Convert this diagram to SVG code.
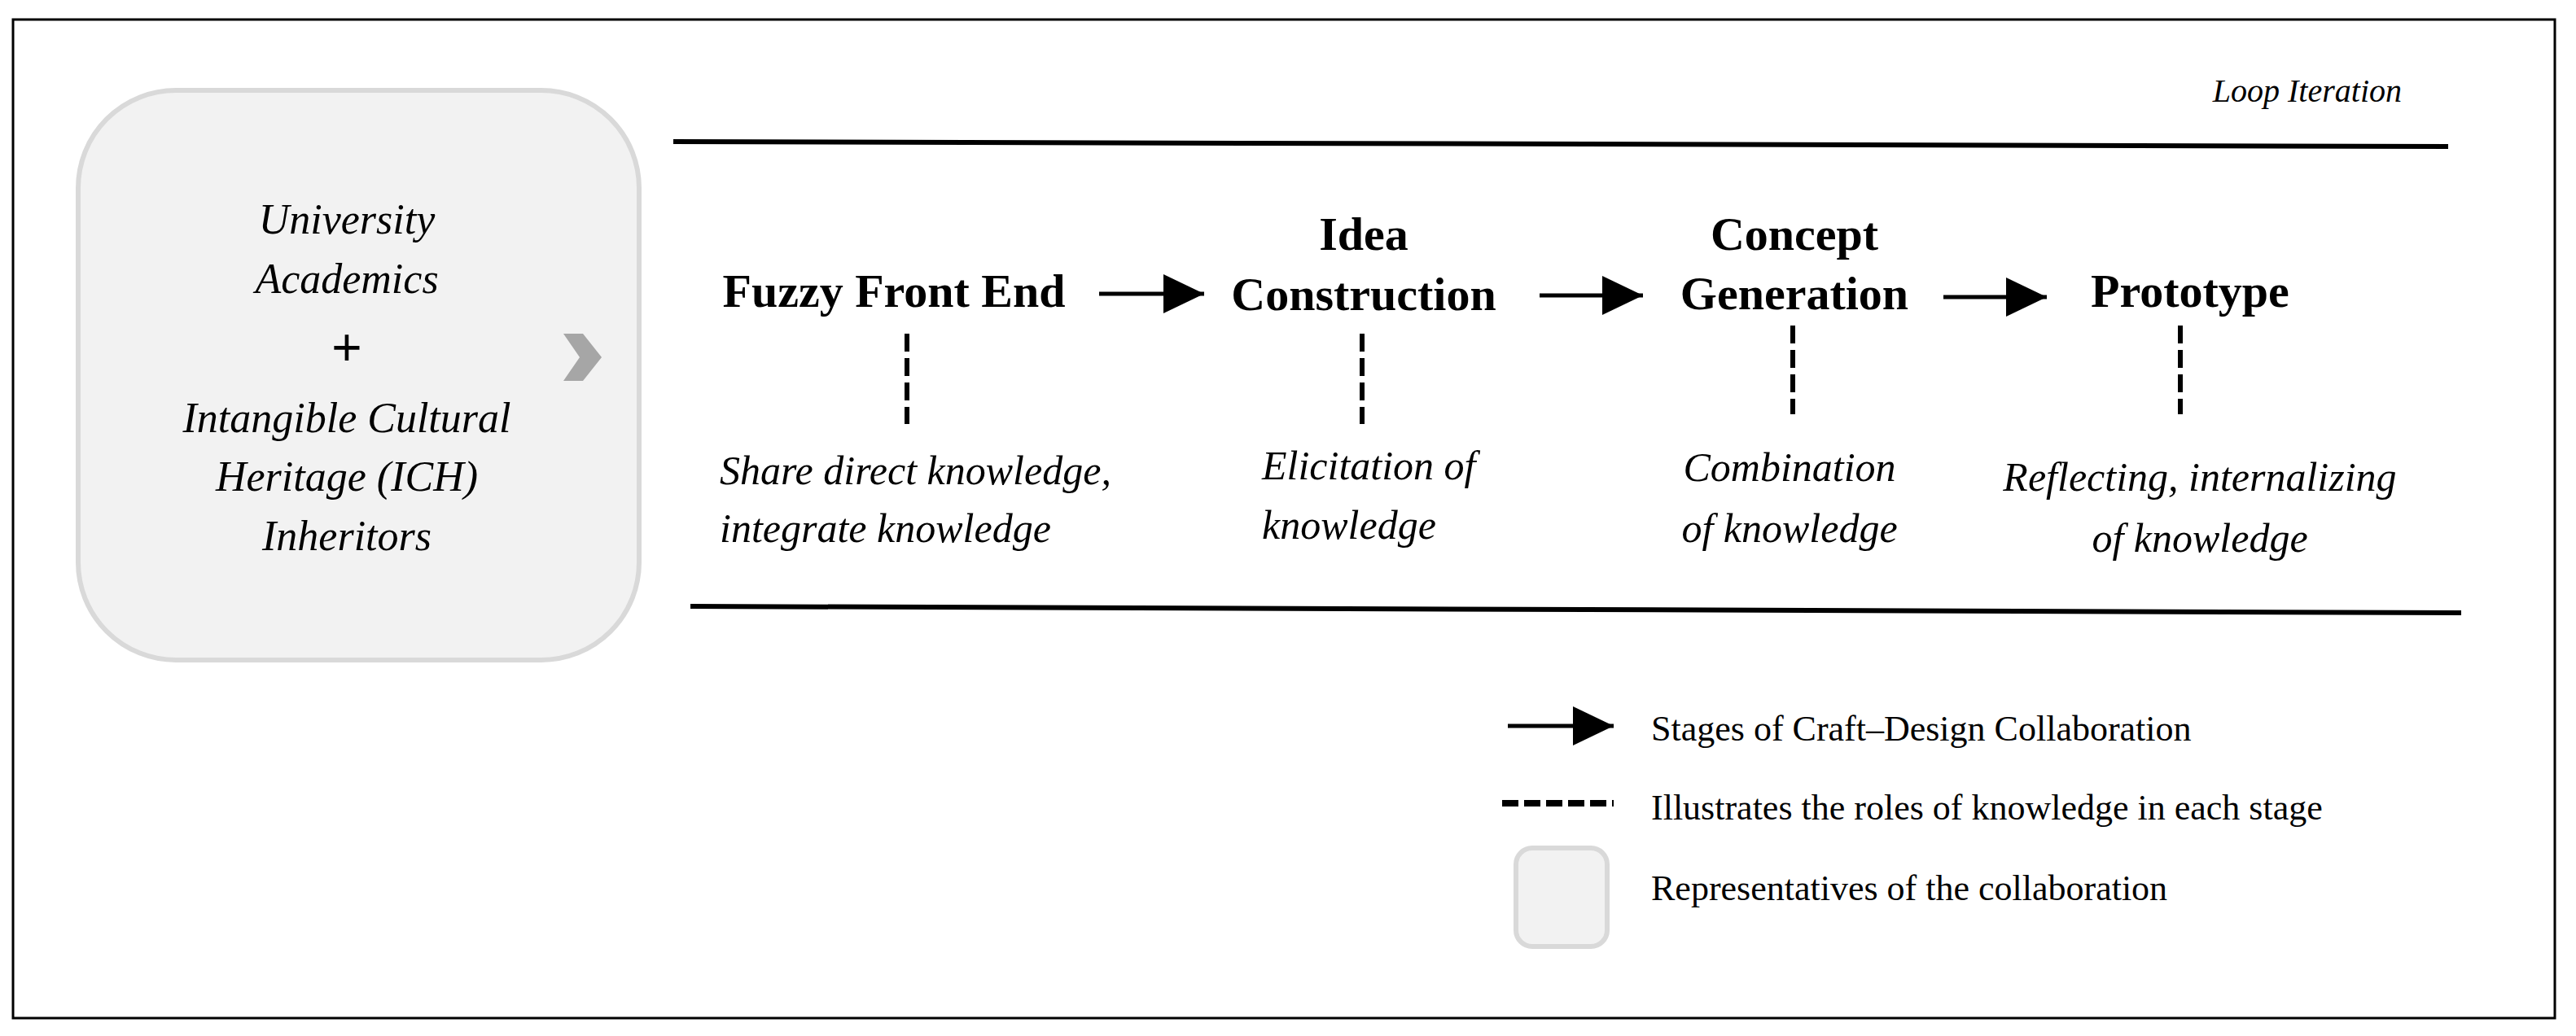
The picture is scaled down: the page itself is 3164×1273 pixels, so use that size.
<svg xmlns="http://www.w3.org/2000/svg" width="3164" height="1273" viewBox="0 0 3164 1273">
<style>
.it{font-family:"Liberation Serif",serif;font-style:italic;fill:#000}
.bd{font-family:"Liberation Serif",serif;font-weight:bold;fill:#000;font-size:58px;text-anchor:middle}
.rg{font-family:"Liberation Serif",serif;fill:#000;font-size:44px}
.ds{stroke:#000;stroke-width:6;stroke-dasharray:22 8;fill:none}
.ar{stroke:#000;stroke-width:5;fill:none}
.rule{stroke:#000;stroke-width:6;fill:none}
</style>
<defs>
<marker id="ah" viewBox="0 0 10 10" refX="10" refY="5" markerWidth="50" markerHeight="48" markerUnits="userSpaceOnUse" orient="auto" preserveAspectRatio="none">
<path d="M0,0L10,5L0,10Z" fill="#000"/>
</marker>
</defs>
<rect x="0" y="0" width="3164" height="1273" fill="#fff"/>
<rect x="16" y="24" width="3122" height="1227" fill="none" stroke="#000" stroke-width="3"/>
<g id="actors">
<rect x="96" y="111" width="689" height="700" rx="120" fill="#f2f2f2" stroke="#d9d9d9" stroke-width="6"/>
<g class="it" font-size="52" text-anchor="middle">
<text x="426" y="287">University</text>
<text x="426" y="360">Academics</text>
<text x="426" y="531">Intangible Cultural</text>
<text x="426" y="603">Heritage (ICH)</text>
<text x="426" y="676">Inheritors</text>
</g>
<text x="426" y="449" font-family="Liberation Sans,sans-serif" font-size="64" text-anchor="middle">+</text>
</g>
<path id="chevron" d="M692,410H716L739,439L716,468H692L712,439Z" fill="#a6a6a6"/>
<g id="loop">
<line class="rule" x1="827" y1="174" x2="3007" y2="180"/>
<line class="rule" x1="848" y1="745" x2="3023" y2="753"/>
<text class="it" font-size="40" x="2950" y="125" text-anchor="end">Loop Iteration</text>
</g>
<g id="fuzzy">
<text class="bd" x="1098" y="377">Fuzzy Front End</text>
<text class="it" font-size="50" x="884" y="595">Share direct knowledge,</text>
<text class="it" font-size="50" x="884" y="666">integrate knowledge</text>
</g>
<g id="idea">
<text class="bd" x="1675" y="307">Idea</text>
<text class="bd" x="1675" y="381">Construction</text>
<text class="it" font-size="50" x="1550" y="589">Elicitation of</text>
<text class="it" font-size="50" x="1550" y="662">knowledge</text>
</g>
<g id="concept">
<text class="bd" x="2204" y="307">Concept</text>
<text class="bd" x="2204" y="380">Generation</text>
<g class="it" font-size="50" text-anchor="middle">
<text x="2198" y="591">Combination</text>
<text x="2198" y="666">of knowledge</text>
</g>
</g>
<g id="prototype">
<text class="bd" x="2690" y="377">Prototype</text>
<g class="it" font-size="50" text-anchor="middle">
<text x="2702" y="603">Reflecting,  internalizing</text>
<text x="2702" y="678">of knowledge</text>
</g>
</g>
<g id="connectors">
<line class="ar" x1="1350" y1="361" x2="1479" y2="361" marker-end="url(#ah)"/>
<line class="ar" x1="1891" y1="363" x2="2018" y2="363" marker-end="url(#ah)"/>
<line class="ar" x1="2387" y1="365" x2="2514" y2="365" marker-end="url(#ah)"/>
<line class="ds" x1="1114" y1="410" x2="1114" y2="521"/>
<line class="ds" x1="1673" y1="410" x2="1673" y2="521"/>
<line class="ds" x1="2202" y1="400" x2="2202" y2="509"/>
<line class="ds" x1="2678" y1="400" x2="2678" y2="509"/>
</g>
<g id="legend">
<line class="ar" x1="1852" y1="892" x2="1982" y2="892" marker-end="url(#ah)"/>
<text class="rg" x="2028" y="910">Stages of Craft–Design Collaboration</text>
<line x1="1845" y1="987" x2="1982" y2="987" stroke="#000" stroke-width="8" stroke-dasharray="20 7"/>
<text class="rg" x="2028" y="1007">Illustrates the roles of knowledge in each stage</text>
<rect x="1862" y="1042" width="112" height="121" rx="20" fill="#f2f2f2" stroke="#d9d9d9" stroke-width="6"/>
<text class="rg" x="2028" y="1106">Representatives of the collaboration</text>
</g>
</svg>
